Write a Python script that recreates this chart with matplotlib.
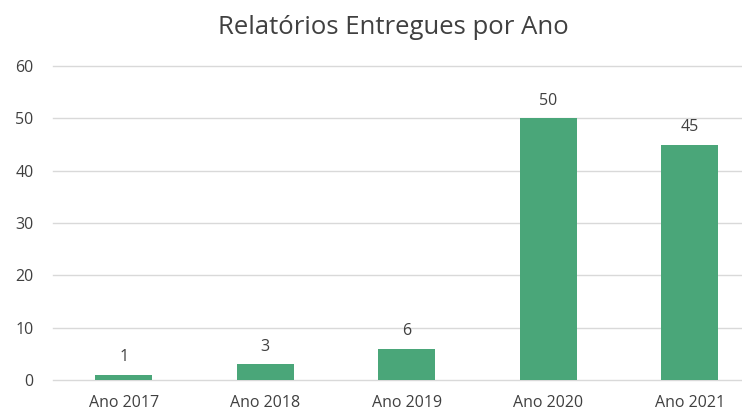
import matplotlib
matplotlib.use("Agg")
import matplotlib.pyplot as plt

categories = ["Ano 2017", "Ano 2018", "Ano 2019", "Ano 2020", "Ano 2021"]
values = [1, 3, 6, 50, 45]
yticks = [0, 10, 20, 30, 40, 50, 60]

plt.rcParams['font.family'] = ['Open Sans', 'DejaVu Sans']
text_color = "#404040"
bar_color = "#4AA679"

fig = plt.figure(figsize=(7.42, 4.13), dpi=100)
ax = fig.add_axes([53/742, 1 - 380/413, 1 - 53/742, (380 - 66)/413])
x = list(range(len(categories)))
bars = ax.bar(x, values, width=0.4, color=bar_color, zorder=3)
for xi, v in zip(x, values):
    ax.annotate(str(v), (xi, v), xytext=(0, 7), textcoords="offset points",
                ha="center", va="bottom", fontsize=11.5, color=text_color)
ax.set_xlim(-0.5, -0.5 + 689/141.5)
ax.set_ylim(0, 60)
ax.set_yticks(yticks)
ax.set_xticks(x)
ax.set_xticklabels(categories)
ax.tick_params(axis="both", length=0, labelsize=11.5, colors=text_color)
ax.tick_params(axis="y", pad=14)
ax.tick_params(axis="x", pad=11)
ax.grid(axis="y", color="#D9D9D9", linewidth=1, zorder=0)
for gl in ax.get_ygridlines():
    gl.set_clip_on(False)
for s in ax.spines.values():
    s.set_visible(False)
fig.text(393/742, 1 - 27/413, "Relatórios Entregues por Ano", ha="center", va="center",
         fontsize=18.5, color=text_color)
fig.savefig("out.png", dpi=100)
